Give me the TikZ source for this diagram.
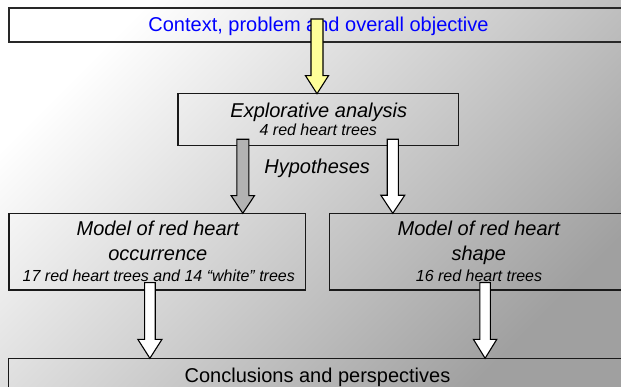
\documentclass[tikz,border=0pt]{standalone}
\usepackage{fontspec}
\setmainfont{Liberation Sans}
\usetikzlibrary{calc}
\definecolor{ctxblue}{RGB}{0,0,255}
\definecolor{bgdark}{RGB}{160,160,160}
\definecolor{arrowyellow}{RGB}{255,255,153}
\definecolor{arrowgrey}{RGB}{178,178,178}
\definecolor{topborder}{RGB}{40,40,40}
\definecolor{boxborder}{RGB}{25,25,25}
\tikzset{
  boxshape/.style={draw=boxborder, line width=1.4pt, rectangle, inner sep=0pt, outer sep=0pt},
  bigtext/.style={anchor=base, inner sep=0pt, font=\fontsize{20}{24}\selectfont},
  smalltext/.style={anchor=base, inner sep=0pt, font=\fontsize{16}{19}\selectfont\itshape},
  barrow/.style={draw=black, line width=1.1pt, line join=miter}
}
\newcommand\blockarrow[6]{%
  \filldraw[barrow, fill=#3] let \p1=(#1), \p2=(#2) in
    (\x1-#4pt,\y1) -- (\x1+#4pt,\y1) -- (\x1+#4pt,\y2+#6pt) -- (\x1+#5pt,\y2+#6pt)
    -- (\x1,\y2) -- (\x1-#5pt,\y2+#6pt) -- (\x1-#4pt,\y2+#6pt) -- cycle;}
\begin{document}
\begin{tikzpicture}[x=1pt,y=-1pt]
  \useasboundingbox (0,0) rectangle (621,387);
  \clip (0,0) rectangle (621,387);
  \shade[top color=white, bottom color=bgdark, shading angle=45] (0,0) rectangle (621,387);

  % boxes
  \node[boxshape, draw=topborder, line width=2pt, minimum width=617.3pt, minimum height=34pt] (ctx) at (317.35,25.3) {};
  \node[boxshape, minimum width=280.4pt, minimum height=52pt] (expl) at (318,119.7) {};
  \node[boxshape, minimum width=296.6pt, minimum height=76.7pt] (occ) at (157.4,251.65) {};
  \node[boxshape, minimum width=298.5pt, minimum height=76.7pt] (shp) at (478.75,251.65) {};
  \node[boxshape, line width=1.5pt, minimum width=617.3pt, minimum height=40pt] (concl) at (317.35,378.3) {};

  % texts
  \node[bigtext, text=ctxblue] (tctx) at (318.5,32) {Context, problem and overall objective};
  \node[bigtext, font=\fontsize{20}{24}\selectfont\itshape] (texpl) at (318.8,118) {Explorative analysis};
  \node[smalltext] (texpl2) at (318.3,136) {4 red heart trees};
  \node[bigtext, font=\fontsize{20}{24}\selectfont\itshape] (thyp) at (317.2,173.5) {Hypotheses};
  \node[bigtext, font=\fontsize{20}{24}\selectfont\itshape] (tocc1) at (157.8,236) {Model of red heart};
  \node[bigtext, font=\fontsize{20}{24}\selectfont\itshape] (tocc2) at (157.8,260.5) {occurrence};
  \node[smalltext] (tocc3) at (158.8,281.7) {17 red heart trees and 14 “white” trees};
  \node[bigtext, font=\fontsize{20}{24}\selectfont\itshape] (tshp1) at (478.8,236) {Model of red heart};
  \node[bigtext, font=\fontsize{20}{24}\selectfont\itshape] (tshp2) at (478.8,260.5) {shape};
  \node[smalltext] (tshp3) at (479,281.7) {16 red heart trees};
  \node[bigtext] (tconcl) at (317.5,382.3) {Conclusions and perspectives};

  % arrow start points
  \coordinate (ys) at (317,19);
  \coordinate (gs) at (242.8,139.3);
  \coordinate (ws) at (392.8,139.3);
  \coordinate (bl) at (149.9,282.7);
  \coordinate (br) at (485.1,282.7);

  % block arrows
  \blockarrow{ys}{ys |- expl.north}{arrowyellow}{6}{11.5}{18}
  \blockarrow{gs}{gs |- occ.north}{arrowgrey}{6}{11.7}{17.7}
  \blockarrow{ws}{ws |- shp.north}{white}{5.6}{11.9}{18}
  \blockarrow{bl}{bl |- concl.north}{white}{5.3}{12.1}{19}
  \blockarrow{br}{br |- concl.north}{white}{5.2}{11.7}{19}
\end{tikzpicture}
\end{document}
